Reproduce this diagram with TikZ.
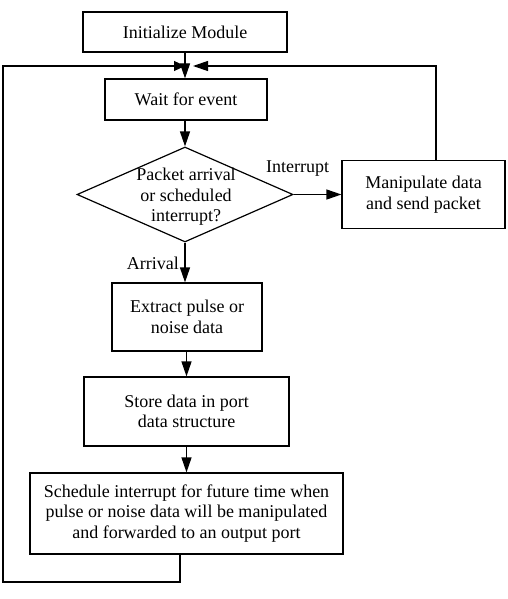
\documentclass[tikz,border=0pt]{standalone}
\usepackage{fontspec}
\setmainfont{Liberation Serif}
\usetikzlibrary{arrows.meta,shapes.geometric}
\begin{document}
\begin{tikzpicture}[x=1pt,y=-1pt,
  box/.style={draw,line width=1.2pt,inner sep=0pt,align=center,font=\fontsize{18}{20.5}\selectfont},
  lbl/.style={inner sep=0pt,font=\fontsize{18}{20.5}\selectfont},
  arr/.style={line width=1.2pt,-{Triangle[length=15pt,width=10pt]}},
  ln/.style={line width=1.2pt}]
\useasboundingbox (0,0) rectangle (507,599);
\node[box,minimum width=204pt,minimum height=40pt] (init) at (185,32) {Initialize Module};
\node[box,minimum width=162pt,minimum height=41pt] (wait) at (186,99.5) {Wait for event};
\node[draw,line width=1.2pt,diamond,minimum width=216pt,minimum height=95pt,inner sep=0pt] (dia) at (185,194.5) {};
\node[lbl,align=center] (diat) at (186,197) {Packet arrival\\or scheduled\\interrupt?};
\node[box,minimum width=163pt,minimum height=68pt] (manip) at (423.5,194.5) {Manipulate data\\and send packet};
\node[box,minimum width=150pt,minimum height=68pt] (extract) at (187,317) {Extract pulse or\\noise data};
\node[box,minimum width=205pt,minimum height=69pt] (store) at (186.5,411.5) {Store data in port\\data structure};
\node[box,minimum width=313pt,minimum height=81pt] (sched) at (186.5,513.5) {Schedule interrupt for future time when\\pulse or noise data will be manipulated\\and forwarded to an output port};
\node[lbl,anchor=base east] (arrival) at (179,269) {Arrival};
\node[lbl,anchor=base west] (intr) at (266,172) {Interrupt};
\coordinate (m) at (185,66);
\coordinate (m2) at (193,66);
\coordinate (bl) at (3,582);
\coordinate (br) at (180,582);
\coordinate (rt) at (436,66);
\draw[arr] (init.south) -- (init.south |- wait.north);
\draw[arr] (wait.south -| dia.north) -- (dia.north);
\draw[arr] (dia.east) -- (dia.east -| manip.west);
\draw[arr] (dia.south) -- (dia.south |- extract.north);
\draw[arr] (extract.south -| store.north) -- (store.north);
\draw[arr] (store.south) -- (store.south |- sched.north);
\draw[line width=1.2pt,-{Triangle[length=11pt,width=10pt]}] (br |- sched.south) -- (br) -- (bl) |- (m);
\draw[arr] (rt |- manip.north) -- (rt) -- (m2);
\end{tikzpicture}
\end{document}
